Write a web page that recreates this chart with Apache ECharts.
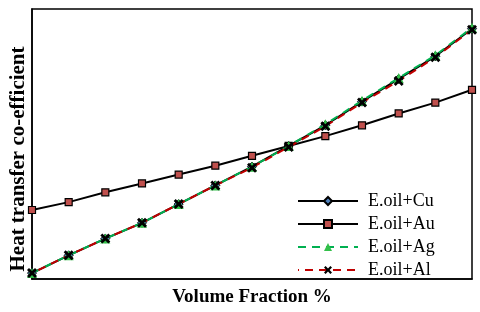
<!DOCTYPE html>
<html>
<head>
<meta charset="utf-8">
<script src="https://cdn.jsdelivr.net/npm/echarts@6/dist/echarts.min.js"></script>
<style>html,body{margin:0;padding:0;background:#fff;}#c{width:480px;height:312px;}</style>
</head>
<body>
<div id="c"></div>
<script>
const volumeFraction = ['0','0.5','1','1.5','2','2.5','3','3.5','4','4.5','5','5.5','6'];
const oilCu = [6, 24, 41, 57, 76, 95, 114, 135, 156, 180, 203, 226, 254];
const oilAu = [70, 78, 88, 97, 106, 115, 125, 135, 145, 156, 168, 179, 192];
const oilAg = [6, 24, 41, 57, 76, 95, 114, 135, 157, 181, 204, 227, 255];
const oilAl = [6, 24, 41, 57, 76, 95, 113, 134, 155, 179, 201, 225, 253];

const chart = echarts.init(document.getElementById('c'), null, {renderer: 'canvas'});
const serif = '"Liberation Serif", "Times New Roman", serif';
const crossPath = 'path://M2,0 L5,3 L8,0 L10,2 L7,5 L10,8 L8,10 L5,7 L2,10 L0,8 L3,5 L0,2 Z';
const squarePath = 'path://M0,0 L10,0 L10,10 L0,10 Z';

chart.setOption({
  animation: false,
  backgroundColor: '#fff',
  grid: {left: 32, right: 8, top: 9, bottom: 29, show: true, borderColor: '#000', borderWidth: 1.5, backgroundColor: 'transparent'},
  xAxis: {
    type: 'category', data: volumeFraction, boundaryGap: false,
    axisLine: {show: true, lineStyle: {color: '#000', width: 1.5}},
    axisTick: {show: false}, axisLabel: {show: false}, splitLine: {show: false},
    name: 'Volume Fraction %', nameLocation: 'middle', nameGap: 9,
    nameTextStyle: {fontFamily: serif, fontWeight: 'bold', fontSize: 19, color: '#000', verticalAlign: 'top'}
  },
  yAxis: {
    type: 'value', min: 0, max: 274,
    axisLine: {show: true, lineStyle: {color: '#000', width: 1.5}},
    axisTick: {show: false}, axisLabel: {show: false}, splitLine: {show: false}
  },
  graphic: [{
    type: 'text', x: 19, y: 159, rotation: Math.PI / 2,
    style: {text: 'Heat transfer co-efficient', font: 'bold 21px ' + serif, fill: '#000', align: 'center', verticalAlign: 'middle'}
  }],
  legend: {
    orient: 'vertical', left: 292, top: 187, itemWidth: 60, itemHeight: 10, itemGap: 5,
    textStyle: {fontFamily: serif, fontSize: 18, color: '#000', lineHeight: 18, padding: [0, 0, 0, 5]},
    data: ['E.oil+Cu', 'E.oil+Au', 'E.oil+Ag', 'E.oil+Al']
  },
  series: [
    {name: 'E.oil+Cu', type: 'line', data: oilCu, symbol: 'diamond', symbolSize: 9,
     lineStyle: {color: '#000', width: 2}, itemStyle: {color: '#4f81bd', borderColor: '#000', borderWidth: 1}},
    {name: 'E.oil+Au', type: 'line', data: oilAu, symbol: squarePath, symbolSize: 7,
     lineStyle: {color: '#000', width: 2}, itemStyle: {color: '#c0504d', borderColor: '#000', borderWidth: 1.2}},
    {name: 'E.oil+Ag', type: 'line', data: oilAg, symbol: 'triangle', symbolSize: 10,
     lineStyle: {color: '#00b050', width: 2, type: [8, 6]}, itemStyle: {color: '#33c04a', borderColor: '#33c04a', borderWidth: 0}},
    {name: 'E.oil+Al', type: 'line', data: oilAl, symbol: crossPath, symbolSize: 10,
     lineStyle: {color: '#c00000', width: 2, type: [8, 6], dashOffset: 7}, itemStyle: {color: '#000', borderWidth: 0}}
  ]
});
</script>
</body>
</html>
